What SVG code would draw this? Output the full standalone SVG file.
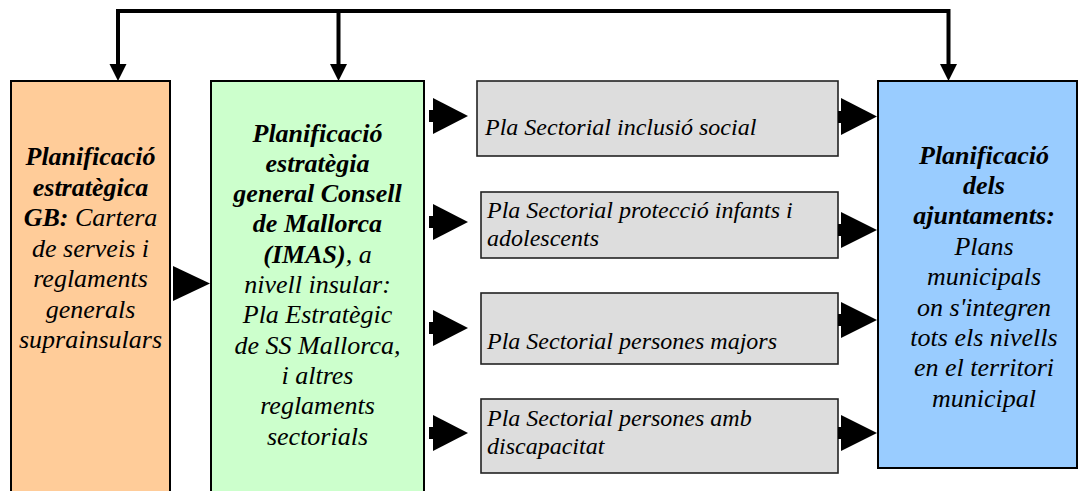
<svg xmlns="http://www.w3.org/2000/svg" width="1080" height="491" viewBox="0 0 1080 491">
<style>
.box{stroke:#000;stroke-width:2}
.g{fill:#dddddd;stroke:#222;stroke-width:1.6}
.ln{stroke:#000;stroke-width:4;fill:none}
.ah{fill:#000}
</style>
<rect width="1080" height="491" fill="#fff"/>
<g id="node-gb">
<rect class="box" x="11" y="81" width="159" height="420" fill="#ffcc99"/>
<text font-family="Liberation Serif" font-style="italic" font-size="26" text-anchor="middle" fill="#000"><tspan x="90.5" y="165" font-weight="bold">Planificació</tspan><tspan x="90.5" y="195.5" font-weight="bold">estratègica</tspan><tspan x="90.5" y="226"><tspan font-weight="bold">GB:</tspan> Cartera</tspan><tspan x="90.5" y="256.5">de serveis i</tspan><tspan x="90.5" y="287">reglaments</tspan><tspan x="90.5" y="317.5">generals</tspan><tspan x="90.5" y="348">suprainsulars</tspan></text>
</g>
<g id="node-cm">
<rect class="box" x="211" y="81" width="213" height="420" fill="#ccffcc"/>
<text font-family="Liberation Serif" font-style="italic" font-size="26" text-anchor="middle" fill="#000"><tspan x="317.5" y="141.5" font-weight="bold">Planificació</tspan><tspan x="317.5" y="171.8" font-weight="bold">estratègia</tspan><tspan x="317.5" y="202.1" font-weight="bold">general Consell</tspan><tspan x="317.5" y="232.4" font-weight="bold">de Mallorca</tspan><tspan x="317.5" y="262.7"><tspan font-weight="bold">(IMAS)</tspan>, a</tspan><tspan x="317.5" y="293">nivell insular:</tspan><tspan x="317.5" y="323.3">Pla Estratègic</tspan><tspan x="317.5" y="353.6">de SS Mallorca,</tspan><tspan x="317.5" y="383.9">i altres</tspan><tspan x="317.5" y="414.2">reglaments</tspan><tspan x="317.5" y="444.5">sectorials</tspan></text>
</g>
<g id="node-s1">
<rect class="g" x="477" y="81" width="361" height="75"/>
<text font-family="Liberation Serif" font-style="italic" font-size="24" fill="#000" x="485" y="135">Pla Sectorial inclusió social</text>
</g>
<g id="node-s2">
<rect class="g" x="481" y="192" width="357" height="66"/>
<text font-family="Liberation Serif" font-style="italic" font-size="24" fill="#000"><tspan x="487" y="218">Pla Sectorial protecció infants i</tspan><tspan x="487" y="246">adolescents</tspan></text>
</g>
<g id="node-s3">
<rect class="g" x="481" y="293" width="357" height="71"/>
<text font-family="Liberation Serif" font-style="italic" font-size="24" fill="#000" x="487" y="349">Pla Sectorial persones majors</text>
</g>
<g id="node-s4">
<rect class="g" x="481" y="399" width="357" height="74"/>
<text font-family="Liberation Serif" font-style="italic" font-size="24" fill="#000"><tspan x="487" y="426">Pla Sectorial persones amb</tspan><tspan x="487" y="454">discapacitat</tspan></text>
</g>
<g id="node-aj">
<rect class="box" x="878" y="81" width="199" height="387" fill="#99ccff"/>
<text font-family="Liberation Serif" font-style="italic" font-size="26" text-anchor="middle" fill="#000"><tspan x="984" y="163.5" font-weight="bold">Planificació</tspan><tspan x="984" y="193.9" font-weight="bold">dels</tspan><tspan x="984" y="224.3" font-weight="bold">ajuntaments:</tspan><tspan x="984" y="254.7">Plans</tspan><tspan x="984" y="285.1">municipals</tspan><tspan x="984" y="315.5">on s'integren</tspan><tspan x="984" y="345.9">tots els nivells</tspan><tspan x="984" y="376.3">en el territori</tspan><tspan x="984" y="406.7">municipal</tspan></text>
</g>
<g id="connectors">
<path class="ln" d="M118,66 V11 H948.5 V66"/>
<path class="ln" d="M338.5,11 V66"/>
<polygon class="ah" points="109.5,64 126.5,64 118,81"/>
<polygon class="ah" points="330,64 347,64 338.5,81"/>
<polygon class="ah" points="940,64 957,64 948.5,81"/>
<polygon class="ah" points="173,266 173,301 210,283.5"/>
<rect class="ah" x="429" y="110" width="6" height="12"/><polygon class="ah" points="433,98 433,134 468,116"/>
<rect class="ah" x="429" y="216" width="6" height="12"/><polygon class="ah" points="433,204 433,240 468,222"/>
<rect class="ah" x="429" y="322" width="6" height="12"/><polygon class="ah" points="433,310 433,346 468,328"/>
<rect class="ah" x="429" y="427" width="6" height="12"/><polygon class="ah" points="433,415 433,451 468,433"/>
<rect class="ah" x="838" y="111" width="6" height="12"/><polygon class="ah" points="841,98 841,135 877,116.5"/>
<rect class="ah" x="838" y="224" width="6" height="12"/><polygon class="ah" points="841,212 841,248 877,230"/>
<rect class="ah" x="838" y="314" width="6" height="12"/><polygon class="ah" points="841,302 841,338 877,320"/>
<rect class="ah" x="838" y="427" width="6" height="12"/><polygon class="ah" points="841,415 841,451 877,433"/>
</g>
</svg>
